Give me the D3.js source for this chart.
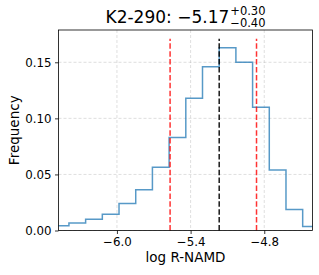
<!DOCTYPE html>
<html lang="en">
<head>
<meta charset="utf-8">
<title>K2-290 log R-NAMD</title>
<script src="https://d3js.org/d3.v7.min.js"></script>
<style>
  body { margin: 0; background: #fff; }
  text { font-family: "DejaVu Sans", sans-serif; fill: #000; }
</style>
</head>
<body>
<div id="chart"></div>
<script>
// histogram bin edges (log R-NAMD) and frequencies
var binEdges = [-6.527, -6.391, -6.255, -6.119, -5.983, -5.847, -5.711, -5.575, -5.439,
                -5.303, -5.167, -5.031, -4.895, -4.759, -4.623, -4.487, -4.351];
var freqs = [0.0042, 0.0066, 0.0101, 0.0146, 0.0241, 0.0363, 0.0565, 0.0829,
             0.118, 0.146, 0.163, 0.150, 0.110, 0.054, 0.0187, 0.0036];
var median = -5.167, lower = -5.567, upper = -4.863;
var xTicks = [-6.0, -5.4, -4.8];
var yTicks = [0.00, 0.05, 0.10, 0.15];

var W = 319, H = 275;
var margin = {top: 30, right: 6.5, bottom: 44.5, left: 58.5};
var width = W - margin.left - margin.right,
    height = H - margin.top - margin.bottom;

var svg = d3.select("#chart").append("svg")
    .attr("width", W).attr("height", H);
var g = svg.append("g")
    .attr("transform", "translate(" + margin.left + "," + margin.top + ")");

var x = d3.scaleLinear().domain([-6.476, -4.407]).range([0, width]);
var y = d3.scaleLinear().domain([0, 0.1788]).range([height, 0]);

g.append("clipPath").attr("id", "clip")
  .append("rect").attr("width", width).attr("height", height);

// grid
g.selectAll(".gx").data(xTicks).enter().append("line")
    .attr("x1", d => x(d)).attr("x2", d => x(d))
    .attr("y1", 0).attr("y2", height)
    .attr("stroke", "#b0b0b0").attr("stroke-opacity", 0.5)
    .attr("stroke-width", 0.8).attr("stroke-dasharray", "3,2");
g.selectAll(".gy").data(yTicks).enter().append("line")
    .attr("x1", 0).attr("x2", width)
    .attr("y1", d => y(d)).attr("y2", d => y(d))
    .attr("stroke", "#b0b0b0").attr("stroke-opacity", 0.5)
    .attr("stroke-width", 0.8).attr("stroke-dasharray", "3,2");

// step histogram
var pts = [[binEdges[0], 0]];
freqs.forEach(function(f, i) {
  pts.push([binEdges[i], f]);
  pts.push([binEdges[i + 1], f]);
});
pts.push([binEdges[binEdges.length - 1], 0]);
g.append("path")
    .attr("clip-path", "url(#clip)")
    .attr("d", d3.line().x(d => x(d[0])).y(d => y(d[1]))(pts))
    .attr("fill", "none")
    .attr("stroke", "#1f77b4").attr("stroke-opacity", 0.75)
    .attr("stroke-width", 1.5);

// median and interval lines
var vtop = 0.171;
[[lower, "red"], [upper, "red"], [median, "black"]].forEach(function(v) {
  g.append("line")
    .attr("x1", x(v[0])).attr("x2", x(v[0]))
    .attr("y1", y(0)).attr("y2", y(vtop))
    .attr("stroke", v[1]).attr("stroke-opacity", v[1] == "red" ? 0.8 : 0.9)
    .attr("stroke-width", 1.5).attr("stroke-dasharray", "5.5,2.4");
});

// axes
var fmtX = d => d3.format(".1f")(d).replace("-", "\u2212");
var xAxis = g.append("g").attr("transform", "translate(0," + height + ")")
    .call(d3.axisBottom(x).tickValues(xTicks).tickFormat(fmtX).tickSize(3.5).tickPadding(3.5));
var yAxis = g.append("g")
    .call(d3.axisLeft(y).tickValues(yTicks).tickFormat(d3.format(".2f")).tickSize(3.5).tickPadding(3.5));
[xAxis, yAxis].forEach(function(a) {
  a.select(".domain").remove();
  a.selectAll(".tick line").attr("stroke", "#000").attr("stroke-width", 0.8);
  a.selectAll(".tick text").style("font-family", "DejaVu Sans").style("font-size", "11.8px").attr("fill", "#000");
});

g.append("rect").attr("width", width).attr("height", height)
    .attr("fill", "none").attr("stroke", "#000").attr("stroke-width", 0.8);

// labels
svg.append("text")
    .attr("x", margin.left + width / 2).attr("y", 262)
    .attr("text-anchor", "middle").style("font-size", "13.5px")
    .text("log R-NAMD");
svg.append("text")
    .attr("transform", "translate(18.5," + (margin.top + height / 2) + ") rotate(-90)")
    .attr("text-anchor", "middle").style("font-size", "13.5px")
    .text("Frequency");

// title with asymmetric errors
var title = svg.append("g");
var main = title.append("text")
    .attr("x", 0).attr("y", 23).style("font-size", "17px")
    .text("K2-290: \u22125.17");
var mw = main.node().getComputedTextLength();
title.append("text").attr("x", mw + 1).attr("y", 14.5)
    .style("font-size", "11.5px").text("+0.30");
title.append("text").attr("x", mw + 1).attr("y", 27)
    .style("font-size", "11.5px").text("\u22120.40");
var bw = title.node().getBBox().width;
title.attr("transform", "translate(" + (margin.left + width / 2 - bw / 2) + ",0)");
</script>
</body>
</html>
